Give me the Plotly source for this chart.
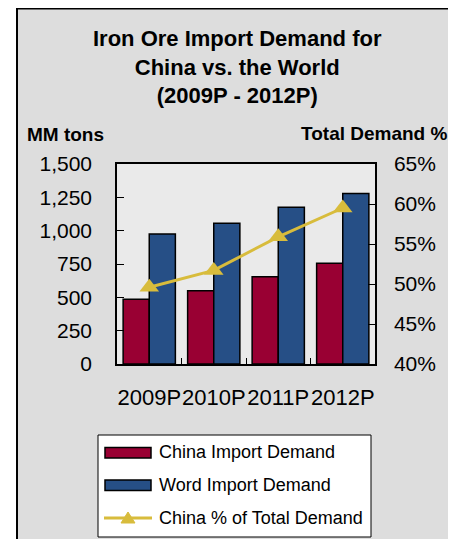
import plotly.graph_objects as go

categories = ["2009P", "2010P", "2011P", "2012P"]
china_demand = [485, 550, 655, 755]
world_demand = [975, 1055, 1175, 1278]
china_share = [49.6, 51.7, 55.9, 59.5]
left_ticks = [0, 250, 500, 750, 1000, 1250, 1500]
right_ticks = [40, 45, 50, 55, 60, 65]
right_labels = ["40%", "45%", "50%", "55%", "60%", "65%"]
series_names = ["China Import Demand", "Word Import Demand", "China % of Total Demand"]

OFF = 8  # page body margin
W, H = 456 - OFF, 539 - OFF
# plot area in page coordinates
L, R, T, B = 117, 375, 164, 364
FONT = "Arial, Liberation Sans, sans-serif"
RED = "#990033"
BLUE = "#264F86"
GOLD = "#D8BC3C"


def px(x):
    return (x - L) / (R - L)


def py(y):
    return (B - y) / (B - T)


fig = go.Figure()
fig.add_trace(go.Bar(x=categories, y=china_demand, name=series_names[0],
                     marker=dict(color=RED, line=dict(color="black", width=1.5)),
                     showlegend=False))
fig.add_trace(go.Bar(x=categories, y=world_demand, name=series_names[1],
                     marker=dict(color=BLUE, line=dict(color="black", width=1.5)),
                     showlegend=False))
fig.add_trace(go.Scatter(x=categories, y=china_share, name=series_names[2], yaxis="y2",
                         mode="lines+markers",
                         line=dict(color=GOLD, width=3),
                         marker=dict(symbol="triangle-up", size=17, color=GOLD),
                         showlegend=False))

shapes = [
    # outer frame
    dict(type="rect", xref="paper", yref="paper", x0=px(17), x1=px(455), y0=py(560), y1=py(8),
         fillcolor="#DDDDDD", line=dict(width=0), layer="below"),
    dict(type="line", xref="paper", yref="paper", x0=px(17), x1=px(455), y0=py(8.7), y1=py(8.7),
         line=dict(color="black", width=1.5), layer="below"),
    dict(type="line", xref="paper", yref="paper", x0=px(17), x1=px(17), y0=py(8), y1=py(560),
         line=dict(color="black", width=2), layer="below"),
    dict(type="line", xref="paper", yref="paper", x0=px(455), x1=px(455), y0=py(8), y1=py(560),
         line=dict(color="#888888", width=1.5), layer="below"),
    # plot area
    dict(type="rect", xref="paper", yref="paper", x0=0, x1=1, y0=0, y1=1,
         fillcolor="#EAEAEA", line=dict(width=0), layer="below"),
    # legend box
    dict(type="rect", xref="paper", yref="paper", x0=px(98), x1=px(371), y0=py(537), y1=py(435),
         fillcolor="white", line=dict(color="black", width=1), layer="above"),
    dict(type="rect", xref="paper", yref="paper", x0=px(105), x1=px(151), y0=py(458), y1=py(447.5),
         fillcolor=RED, line=dict(color="black", width=1.5), layer="above"),
    dict(type="rect", xref="paper", yref="paper", x0=px(105), x1=px(151), y0=py(490.5), y1=py(480),
         fillcolor=BLUE, line=dict(color="black", width=1.5), layer="above"),
    dict(type="line", xref="paper", yref="paper", x0=px(104), x1=px(152), y0=py(518), y1=py(518),
         line=dict(color=GOLD, width=3), layer="above"),
    dict(type="path", xref="paper", yref="paper",
         path="M %f,%f L %f,%f L %f,%f Z" % (px(121), py(523), px(135), py(523), px(128), py(512)),
         fillcolor=GOLD, line=dict(color=GOLD, width=1), layer="above"),
]

annotations = [
    dict(text="<b>Iron Ore Import Demand for<br>China vs. the World<br>(2009P - 2012P)</b>",
         xref="paper", yref="paper", x=px(237.5), y=py(67), xanchor="center", yanchor="middle",
         showarrow=False, font=dict(family=FONT, size=22, color="black")),
    dict(text="<b>MM tons</b>", xref="paper", yref="paper", x=px(25), y=py(134),
         xanchor="left", yanchor="middle", showarrow=False,
         font=dict(family=FONT, size=19, color="black")),
    dict(text="<b>Total Demand %</b>", xref="paper", yref="paper", x=px(449), y=py(133),
         xanchor="right", yanchor="middle", showarrow=False,
         font=dict(family=FONT, size=19, color="black")),
]
for name, yc in zip(series_names, [452, 485, 518]):
    annotations.append(dict(text=name, xref="paper", yref="paper", x=px(157), y=py(yc),
                            xanchor="left", yanchor="middle", showarrow=False,
                            font=dict(family=FONT, size=18, color="black")))

fig.update_layout(
    width=W, height=H,
    margin=dict(l=L - OFF, r=456 - R, t=T - OFF, b=539 - B, pad=0),
    paper_bgcolor="white",
    plot_bgcolor="rgba(0,0,0,0)",
    barmode="group", bargap=0.19, bargroupgap=0,
    showlegend=False,
    font=dict(family=FONT, color="black"),
    xaxis=dict(type="category", showline=True, linecolor="black", linewidth=1.5, mirror=True,
               ticks="inside", ticklen=6, tickcolor="black", tickson="boundaries",
               tickangle=0, tickfont=dict(size=22, family=FONT), ticklabelstandoff=13,
               showgrid=False),
    yaxis=dict(range=[0, 1500], tickvals=left_ticks, tickformat=",d",
               showline=True, linecolor="black", linewidth=1.5,
               ticks="inside", ticklen=7, tickcolor="black",
               tickfont=dict(size=21, family=FONT), ticklabelstandoff=19,
               showgrid=False, zeroline=False),
    yaxis2=dict(range=[40, 65], tickvals=right_ticks, ticktext=right_labels,
                overlaying="y", side="right",
                showline=True, linecolor="black", linewidth=1.5,
                ticks="inside", ticklen=7, tickcolor="black",
                tickfont=dict(size=21, family=FONT), ticklabelstandoff=13,
                showgrid=False, zeroline=False),
    shapes=shapes,
    annotations=annotations,
)

fig.write_html("out.html")
